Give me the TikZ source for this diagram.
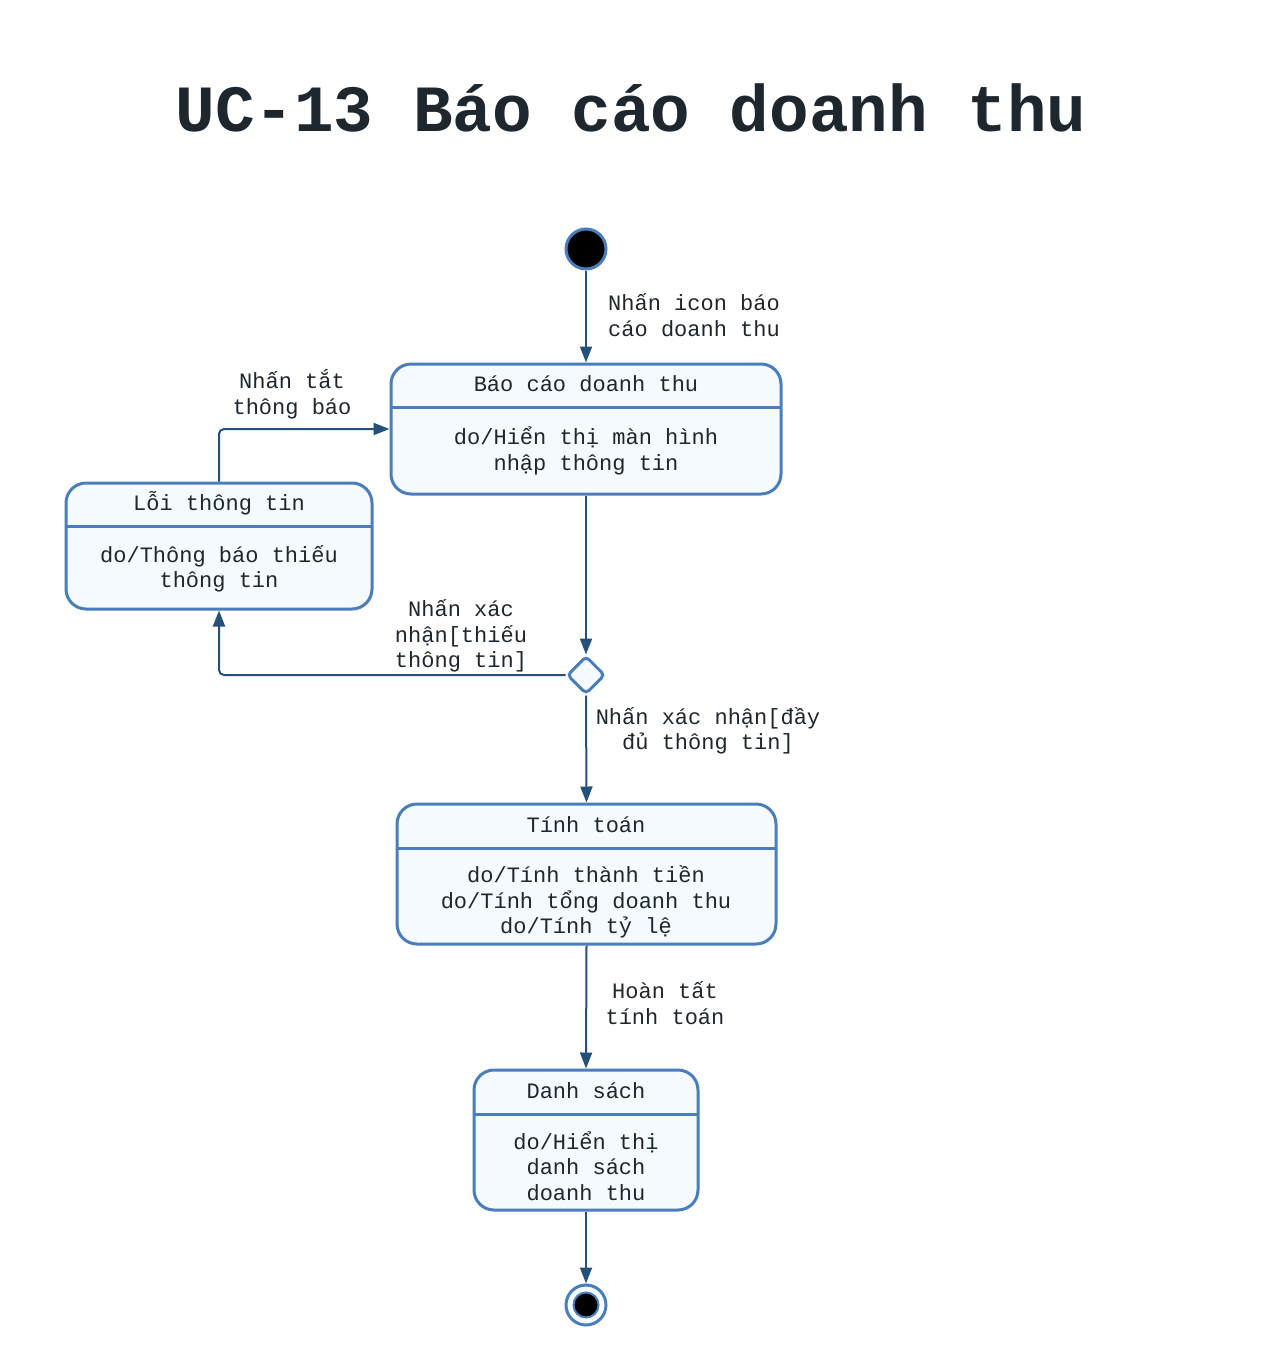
\documentclass[tikz,border=0pt]{standalone}
\usepackage{fontspec}
\setmainfont{Liberation Mono}
\usetikzlibrary{arrows.meta,shapes.geometric}
\definecolor{stateblue}{HTML}{4A7EBB}
\definecolor{arrowblue}{HTML}{25507A}
\definecolor{statefill}{HTML}{F5FAFF}
\definecolor{inkdark}{HTML}{1E272E}

\begin{document}
\begin{tikzpicture}[
		x=1pt, y=-1pt,
		every node/.style={font=\fontsize{22}{25.5}\selectfont, text=inkdark, inner sep=0pt},
		state/.style={rectangle, rounded corners=20pt, draw=stateblue, fill=statefill, line width=3pt},
		divider/.style={draw=stateblue, line width=3pt},
		trans/.style={draw=arrowblue, line width=2pt, -{Triangle[length=16pt,width=12pt]}, rounded corners=5pt},
		txt/.style={align=center}
	]
  \useasboundingbox (0,0) rectangle (1263,1366);
  \node (heading) [anchor=base, font=\fontsize{66}{70}\selectfont\bfseries] at (631,131) {UC-13 Báo cáo doanh thu};

  \node (init) [circle, fill=black, draw=stateblue, line width=3pt, minimum size=40pt] at (586,249) {};

  \node (bc) [state, minimum width=390pt, minimum height=130pt] at (586,429) {};
  \draw [divider] (391,407) -- (781,407);
  \node (bc_head) [txt] at (586,384) {Báo cáo doanh thu};
  \node (bc_body) [txt] at (586,451) {do/Hiển thị màn hình\\nhập thông tin};

  \node (loi) [state, minimum width=306pt, minimum height=126pt] at (219,546) {};
  \draw [divider] (66,526) -- (372,526);
  \node (loi_head) [txt] at (219,503) {Lỗi thông tin};
  \node (loi_body) [txt] at (219,569) {do/Thông báo thiếu\\thông tin};

  \node (dec) [diamond, draw=stateblue, fill=statefill, line width=3pt, minimum size=38pt, rounded corners=4pt] at (586,675) {};

  \node (tt) [state, minimum width=379pt, minimum height=140pt] at (586.5,874) {};
  \draw [divider] (397,848) -- (776,848);
  \node (tt_head) [txt] at (586,825) {Tính toán};
  \node (tt_body) [txt] at (586,902) {do/Tính thành tiền\\do/Tính tổng doanh thu\\do/Tính tỷ lệ};

  \node (ds) [state, minimum width=224pt, minimum height=140pt] at (586,1140) {};
  \draw [divider] (474,1114) -- (698,1114);
  \node (ds_head) [txt] at (586,1091) {Danh sách};
  \node (ds_body) [txt] at (586,1166) {do/Hiển thị\\danh sách\\doanh thu};

  \node (fin) [circle, fill=statefill, draw=stateblue, line width=3pt, minimum size=40pt] at (586,1305) {};
  \node (fin_dot) [circle, fill=black, draw=stateblue, line width=2pt, minimum size=25pt] at (586,1305) {};

  \node (lbl_open) [anchor=west, align=left] at (608,315) {Nhấn icon báo\\cáo doanh thu};
  \node (lbl_close) [txt] at (292,394) {Nhấn tắt\\thông báo};
  \node (lbl_missing) [txt] at (461,636) {Nhấn xác\\nhận[thiếu\\thông tin]};
  \node (lbl_full) [txt] at (708,731) {Nhấn xác nhận[đầy\\đủ thông tin]};
  \node (lbl_done) [txt] at (665,1003) {Hoàn tất\\tính toán};

  \draw [trans] (init) -- (bc);
  \draw [trans] (loi.north) |- (bc.west);
  \draw [trans] (bc.south) -- (dec.north);
  \draw [trans] (dec.west) -| (loi.south);
  \draw [trans] (dec.south) -- (tt.north);
  \draw [trans] (tt.south) -- (ds.north);
  \draw [trans] (ds.south) -- (fin.north);
\end{tikzpicture}
\end{document}
